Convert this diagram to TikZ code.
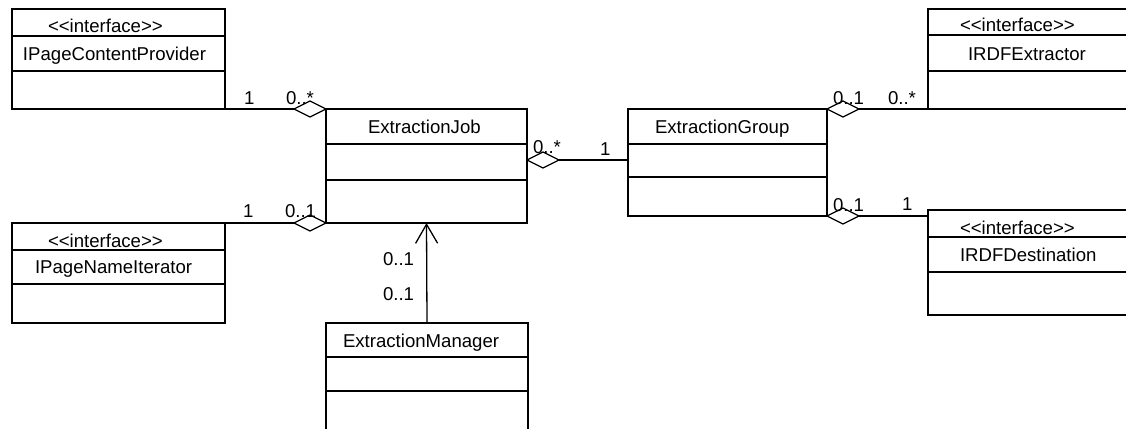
\documentclass[tikz,border=0pt]{standalone}
\usepackage{fontspec}
\setmainfont{Liberation Sans}
\usetikzlibrary{arrows.meta,shapes.geometric}

\tikzset{
  classbox/.style={draw, line width=1.3pt, rectangle, inner sep=0pt, outer sep=0pt, anchor=north west},
  sep/.style={line width=1.3pt},
  txt/.style={anchor=base west, inner sep=0pt, outer sep=0pt},
  agg/.style={draw, line width=1.3pt, fill=white, shape=diamond, aspect=2,
              minimum width=32pt, minimum height=16pt, inner sep=0pt, outer sep=0pt},
  assoc/.style={line width=1.3pt},
  nav/.style={line width=1.3pt, -{Straight Barb[length=19pt, width=22pt, line width=1.3pt]}},
}

\begin{document}
\begin{tikzpicture}[x=1pt, y=-1pt, font=\fontsize{18.6}{22}\selectfont]
\useasboundingbox (0,0) rectangle (1126,428);
\clip (0,0) rectangle (1126,428);
\fill[white] (0,0) rectangle (1126,428);

% interface IPageContentProvider
\node[classbox, minimum width=213pt, minimum height=100pt] (ipcp) at (12,9) {};
\draw[sep] (ipcp.west |- 0,36) -- (ipcp.east |- 0,36);
\draw[sep] (ipcp.west |- 0,71) -- (ipcp.east |- 0,71);
\node[txt] (ipcpS) at (48,33) {<{}<interface>{}>};
\node[txt] (ipcpN) at (23,60) {IPageContentProvider};

% interface IPageNameIterator
\node[classbox, minimum width=213pt, minimum height=100pt] (ipni) at (12,223) {};
\draw[sep] (ipni.west |- 0,250) -- (ipni.east |- 0,250);
\draw[sep] (ipni.west |- 0,284) -- (ipni.east |- 0,284);
\node[txt] (ipniS) at (48,247) {<{}<interface>{}>};
\node[txt] (ipniN) at (35,273) {IPageNameIterator};

% class ExtractionJob
\node[classbox, minimum width=201pt, minimum height=114pt] (ej) at (326,109) {};
\draw[sep] (ej.west |- 0,144) -- (ej.east |- 0,144);
\draw[sep] (ej.west |- 0,180) -- (ej.east |- 0,180);
\node[txt] (ejN) at (368,133) {ExtractionJob};

% class ExtractionManager
\node[classbox, minimum width=202pt, minimum height=130pt] (em) at (326,323) {};
\draw[sep] (em.west |- 0,357) -- (em.east |- 0,357);
\draw[sep] (em.west |- 0,391) -- (em.east |- 0,391);
\node[txt] (emN) at (343,347) {ExtractionManager};

% class ExtractionGroup
\node[classbox, minimum width=199pt, minimum height=107pt] (eg) at (628,109) {};
\draw[sep] (eg.west |- 0,144) -- (eg.east |- 0,144);
\draw[sep] (eg.west |- 0,177) -- (eg.east |- 0,177);
\node[txt] (egN) at (655,133) {ExtractionGroup};

% interface IRDFExtractor
\node[classbox, minimum width=212pt, minimum height=100pt] (irx) at (928,9) {};
\draw[sep] (irx.west |- 0,35) -- (irx.east |- 0,35);
\draw[sep] (irx.west |- 0,71) -- (irx.east |- 0,71);
\node[txt] (irxS) at (960,32) {<{}<interface>{}>};
\node[txt] (irxN) at (968,60) {IRDFExtractor};

% interface IRDFDestination
\node[classbox, minimum width=212pt, minimum height=105pt] (ird) at (928,210) {};
\draw[sep] (ird.west |- 0,237) -- (ird.east |- 0,237);
\draw[sep] (ird.west |- 0,272) -- (ird.east |- 0,272);
\node[txt] (irdS) at (960,234) {<{}<interface>{}>};
\node[txt] (irdN) at (960,261) {IRDFDestination};

% aggregations
\node[agg, anchor=east] (d1) at (ej.north west) {};
\draw[assoc] (ipcp.south east) -- (d1.west);
\node[agg, anchor=east] (d2) at (ej.south west) {};
\draw[assoc] (ipni.north east) -- (d2.west);
\node[agg, anchor=west] (d3) at (ej.east |- 0,160) {};
\draw[assoc] (d3.east) -- (d3.east -| eg.west);
\node[agg, anchor=west] (d4) at (eg.north east) {};
\draw[assoc] (d4.east) -- (irx.south west);
\node[agg, anchor=west] (d5) at (eg.south east) {};
\draw[assoc] (d5.east) -- (d5.east -| ird.west);

% navigable association
\draw[nav] (em.north) -- (ej.south);

% multiplicities
\node[txt] (m1a) at (244,104) {1};
\node[txt] (m1b) at (286,104) {0..*};
\node[txt] (m2a) at (243,217) {1};
\node[txt] (m2b) at (285,217) {0..1};
\node[txt] (m3a) at (533,153) {0..*};
\node[txt] (m3b) at (600,155) {1};
\node[txt] (m4a) at (833,104) {0..1};
\node[txt] (m4b) at (888,104) {0..*};
\node[txt] (m5a) at (833,211) {0..1};
\node[txt] (m5b) at (902,210) {1};
\node[txt] (m6a) at (383,265) {0..1};
\node[txt] (m6b) at (383,300) {0..1};
\end{tikzpicture}
\end{document}
